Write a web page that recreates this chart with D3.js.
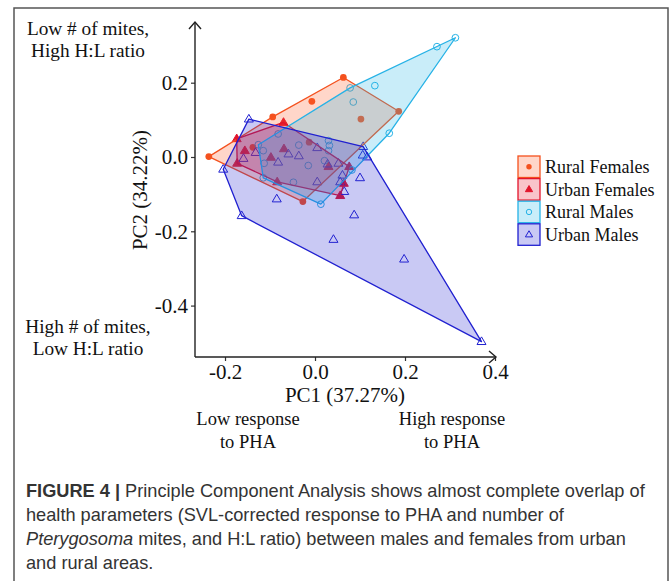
<!DOCTYPE html>
<html><head><meta charset="utf-8">
<script src="https://cdn.jsdelivr.net/npm/d3@7"></script>
<style>body{margin:0;background:#fff}svg{display:block}</style>
</head><body><svg id="c" width="670" height="581"></svg>
<script>
// ---- data (PC1, PC2) ----
const groups = ["Rural Females","Urban Females","Rural Males","Urban Males"];
const ruralFemales = [[-0.236,0.001],[-0.094,0.108],[-0.007,0.150],[0.063,0.214],[0.186,0.123],[0.102,0.102],[-0.027,-0.120],[-0.138,0.026],[-0.013,0.040]];
const urbanFemales = [[-0.174,0.049],[-0.070,0.093],[0.076,-0.026],[0.056,-0.104],[-0.173,-0.017],[-0.156,0.017],[-0.098,-0.001],[-0.069,0.022],[-0.084,-0.067],[0.030,-0.026],[0.064,-0.071]];
const ruralMales = [[0.312,0.321],[0.271,0.297],[0.133,0.192],[0.078,0.186],[0.085,0.148],[0.165,0.064],[0.013,-0.127],[-0.115,-0.056],[-0.126,0.033],[-0.082,0.062],[-0.115,0.017],[-0.113,-0.017],[-0.036,0.032],[-0.015,-0.023],[-0.048,-0.068],[0.030,0.044],[0.032,0.031],[0.030,0.017],[0.021,-0.010],[0.082,-0.035]];
const urbanMales = [[-0.147,0.102],[-0.204,-0.033],[-0.163,-0.158],[0.370,-0.497],[0.107,0.028],[0.116,0.000],[0.106,0.005],[0.100,-0.056],[0.061,-0.049],[0.056,-0.067],[0.065,-0.093],[0.087,-0.156],[0.041,-0.222],[0.198,-0.275],[0.005,-0.067],[-0.036,0.003],[-0.159,-0.004],[-0.132,0.012],[-0.082,-0.014],[-0.059,0.008],[-0.085,-0.113],[0.005,0.025],[0.052,-0.017],[0.028,-0.019]];
const seriesData = [ruralFemales, urbanFemales, ruralMales, urbanMales];
const xTicks = [-0.2,0.0,0.2,0.4];
const yTicks = [-0.4,-0.2,0.0,0.2];
const strokeColors = ["#F4511E","#E2142C","#26B2E6","#2020D0"];
const fillColors = ["#FF5A28","#E8142C","#29B6E8","#2828D2"];
const shapes = ["filledCircle","filledTriangle","openCircle","openTriangle"];

const svg = d3.select("#c");
const serif = "'Liberation Serif','Times New Roman',serif";

// figure frame
svg.append("rect").attr("x",14).attr("y",8).attr("width",654).attr("height",600)
  .attr("fill","none").attr("stroke","#555").attr("stroke-width",1.5);

const x = d3.scaleLinear().domain([-0.2667,0.4]).range([195,495]);
const y = d3.scaleLinear().domain([-0.5384,0.3634]).range([357,22]);

function marker(sel, shape, color, cx, cy, s){
  if(shape==="filledCircle"||shape==="openCircle"){
    sel.append("circle").attr("cx",cx).attr("cy",cy).attr("r",s*0.75)
      .attr("fill", shape==="filledCircle"?color:"none")
      .attr("stroke",color).attr("stroke-width", shape==="filledCircle"?0:1);
  } else {
    const h = s*1.7, w = s*1.0;
    const p = `M${cx},${cy-h*0.62}L${cx+w},${cy+h*0.38}L${cx-w},${cy+h*0.38}Z`;
    sel.append("path").attr("d",p)
      .attr("fill", shape==="filledTriangle"?color:"none")
      .attr("stroke",color).attr("stroke-width",1).attr("stroke-linejoin","miter");
  }
}

// points first
const gp = svg.append("g");
seriesData.forEach((pts,i)=>{
  pts.forEach(d=>marker(gp, shapes[i], strokeColors[i], x(d[0]), y(d[1]), 4.5));
});
// hulls
const gh = svg.append("g");
seriesData.forEach((pts,i)=>{
  const hull = d3.polygonHull(pts.map(d=>[x(d[0]),y(d[1])]));
  gh.append("path").attr("d","M"+hull.join("L")+"Z")
    .attr("fill",fillColors[i]).attr("fill-opacity",0.25)
    .attr("stroke",strokeColors[i]).attr("stroke-width",1.3).attr("stroke-linejoin","round");
});

// axes
const fmt = d=>d.toFixed(1);
const ax = svg.append("g").attr("transform","translate(0,357)")
  .call(d3.axisBottom(x).tickValues(xTicks).tickFormat(fmt).tickSize(4).tickSizeOuter(0));
const ay = svg.append("g").attr("transform","translate(195,0)")
  .call(d3.axisLeft(y).tickValues(yTicks).tickFormat(fmt).tickSize(4).tickSizeOuter(0));
[ax,ay].forEach(a=>{
  a.select(".domain").remove();
  a.selectAll(".tick line").attr("stroke","#333").attr("stroke-width",1.2);
  a.selectAll(".tick text").attr("font-family",serif).attr("font-size",21).attr("fill","#111");
});
ax.selectAll(".tick text").attr("dy","0.85em").attr("y",4);
ay.selectAll(".tick text").attr("x",-7);
// axis lines with arrows
const axl = svg.append("g").attr("stroke","#222").attr("stroke-width",1.4).attr("fill","none");
axl.append("path").attr("d",`M195,357L495,357`);
axl.append("path").attr("d",`M195,357L195,22`);
axl.append("path").attr("d",`M489,351L496,357L489,363`);
axl.append("path").attr("d",`M189,29L195,22L201,29`);

// axis titles
svg.append("text").attr("x",345).attr("y",402).attr("text-anchor","middle")
  .attr("font-family",serif).attr("font-size",21).attr("fill","#111").text("PC1 (37.27%)");
svg.append("text").attr("transform","translate(147,190) rotate(-90)").attr("text-anchor","middle")
  .attr("font-family",serif).attr("font-size",21).attr("fill","#111").text("PC2 (34.22%)");

// annotations
const ann = [
  ["Low # of mites,",88,35,19.3],["High H:L ratio",88,57,19.3],
  ["High # of mites,",88,333,19.3],["Low H:L ratio",88,355,19.3],
  ["Low response",248,425,18.5],["to PHA",248,448,18.5],
  ["High response",452,425,18.5],["to PHA",452,448,18.5]
];
ann.forEach(a=>svg.append("text").attr("x",a[1]).attr("y",a[2]).attr("text-anchor","middle")
  .attr("font-family",serif).attr("font-size",a[3]).attr("fill","#111").text(a[0]));

// legend
const lg = svg.append("g");
groups.forEach((g,i)=>{
  const y0 = 156 + i*22.6;
  lg.append("rect").attr("x",518).attr("y",y0).attr("width",22).attr("height",21.5)
    .attr("fill",fillColors[i]).attr("fill-opacity",0.25)
    .attr("stroke",strokeColors[i]).attr("stroke-width",1.3);
  marker(lg, shapes[i], strokeColors[i], 529, y0+10.75, 3.6);
  lg.append("text").attr("x",545).attr("y",y0+17).attr("font-family",serif)
    .attr("font-size",18).attr("fill","#111").text(g);
});

// caption
const sans = "'Liberation Sans',Arial,sans-serif";
const cap = svg.append("g").attr("font-family",sans).attr("font-size",18.2).attr("fill","#333");
const l1 = cap.append("text").attr("x",26).attr("y",497);
l1.append("tspan").attr("font-weight","bold").text("FIGURE 4 | ");
l1.append("tspan").text("Principle Component Analysis shows almost complete overlap of");
cap.append("text").attr("x",26).attr("y",521).text("health parameters (SVL-corrected response to PHA and number of");
const l3 = cap.append("text").attr("x",26).attr("y",545);
l3.append("tspan").attr("font-style","italic").text("Pterygosoma");
l3.append("tspan").text(" mites, and H:L ratio) between males and females from urban");
cap.append("text").attr("x",26).attr("y",569).text("and rural areas.");
</script></body></html>
